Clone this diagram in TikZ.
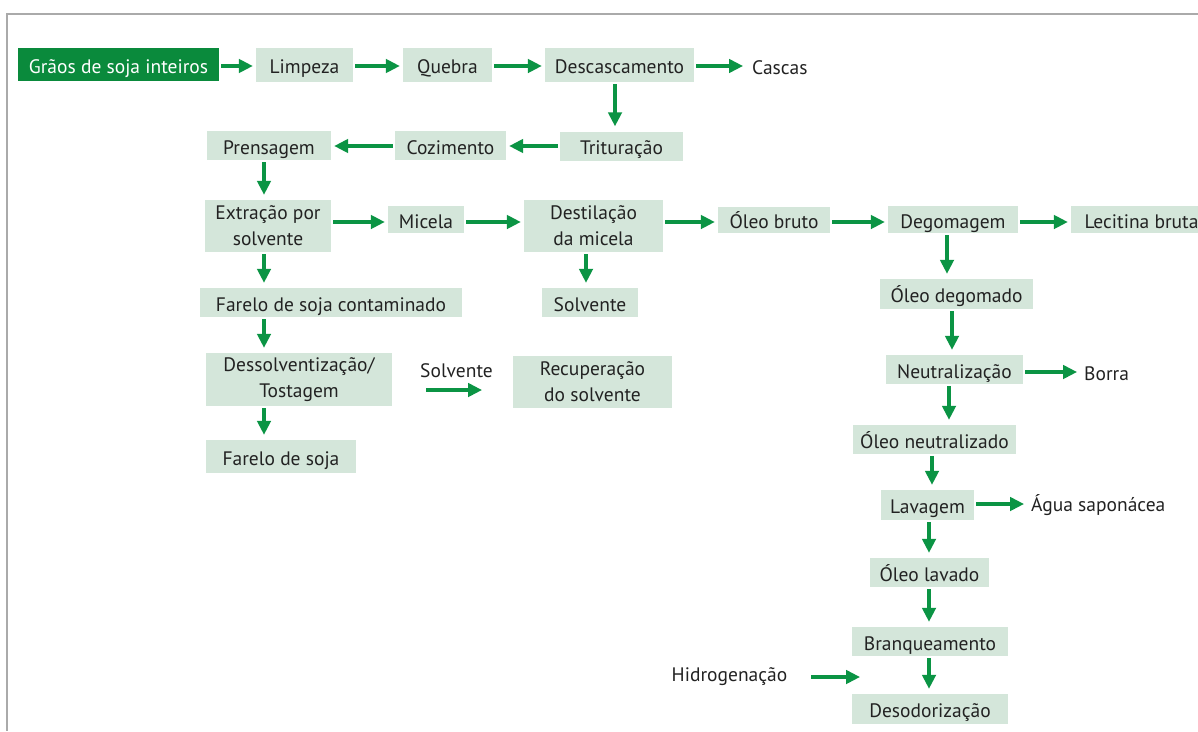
\documentclass[tikz,border=0pt]{standalone}
\usepackage{fontspec}
\setmainfont{PT Sans}
\usetikzlibrary{arrows.meta}
\definecolor{boxfill}{HTML}{D4E6DA}
\definecolor{darkgreen}{HTML}{0A8A3C}
\definecolor{arrgreen}{HTML}{0B9444}
\definecolor{txt}{HTML}{222222}
\definecolor{frame}{HTML}{AAAAAA}
\begin{document}
\begin{tikzpicture}[x=1pt,y=1pt,
  every node/.style={font=\fontsize{19.5}{26}\selectfont, text=txt},
  box/.style={fill=boxfill, inner sep=0pt, align=center, text height=17pt, text depth=0pt},
  box2/.style={fill=boxfill, inner sep=0pt, align=center},
  startbox/.style={fill=darkgreen, inner sep=0pt, text=white, text height=17pt, text depth=0pt},
  plain/.style={inner sep=0pt},
  arr/.style={draw=arrgreen, line width=3.2pt, -{Triangle[length=14pt,width=13.5pt]}, shorten <=2pt, shorten >=3pt},
  varr/.style={arr, shorten <=2pt, shorten >=5pt}]
\useasboundingbox (0,0) rectangle (1198,-731);
% frame
\draw[frame, line width=1.3pt] (1198,-14) -- (7,-14) -- (7,-731);
% row 1
\node[startbox, minimum width=201, minimum height=33] (gr) at (118.5,-64.5) {Grãos de soja inteiros};
\node[box, minimum width=97, minimum height=34] (limp) at (304.5,-65) {Limpeza};
\node[box, minimum width=89, minimum height=34] (queb) at (447.5,-65) {Quebra};
\node[box, minimum width=149, minimum height=34] (desc) at (619.5,-65) {Descascamento};
\node[plain, anchor=west] (casc) at (752,-68) {Cascas};
% row 2
\node[box, minimum width=123, minimum height=29] (trit) at (621.5,-146) {Trituração};
\node[box, minimum width=111, minimum height=29] (coz) at (450.5,-145.5) {Cozimento};
\node[box, minimum width=124, minimum height=29] (prens) at (269,-145.5) {Prensagem};
% row 3
\node[box2, minimum width=126, minimum height=52] (extr) at (268,-226) {Extração por\\solvente};
\node[box, minimum width=76, minimum height=27] (mic) at (426,-219.5) {Micela};
\node[box2, minimum width=139, minimum height=52] (dest) at (593.5,-226) {Destilação\\da micela};
\node[box, minimum width=112, minimum height=26] (obr) at (774,-220) {Óleo bruto};
\node[box, minimum width=130, minimum height=27] (deg) at (953,-219.5) {Degomagem};
\node[box, minimum width=141, minimum height=27] (lec) at (1141.5,-219.5) {Lecitina bruta};
% left column
\node[box, minimum width=96, minimum height=29] (solv) at (590,-302.5) {Solvente};
\node[box, minimum width=262, minimum height=29] (farc) at (331,-302.5) {Farelo de soja contaminado};
\node[box2, minimum width=186, minimum height=53] (dess) at (299,-379.5) {Dessolventização/\\Tostagem};
\node[box, minimum width=150, minimum height=33] (far) at (281,-456.5) {Farelo de soja};
\node[plain] (solvt) at (456.5,-371) {Solvente};
\node[box2, minimum width=159, minimum height=52] (rec) at (592.5,-382) {Recuperação\\do solvente};
% right column
\node[box, minimum width=153, minimum height=30] (odeg) at (956.5,-294) {Óleo degomado};
\node[box, minimum width=137, minimum height=29] (neu) at (954.5,-369.5) {Neutralização};
\node[plain, anchor=west] (borra) at (1084,-374) {Borra};
\node[box, minimum width=163, minimum height=29] (oneu) at (934.5,-439.5) {Óleo neutralizado};
\node[box, minimum width=93, minimum height=30] (lav) at (927.5,-505) {Lavagem};
\node[plain, anchor=west] (agua) at (1031,-505) {Água saponácea};
\node[box, minimum width=119, minimum height=29] (olav) at (929.5,-572.5) {Óleo lavado};
\node[box, minimum width=156, minimum height=29] (bra) at (930,-641.5) {Branqueamento};
\node[box, minimum width=156, minimum height=30] (des) at (930,-709) {Desodorização};
\node[plain] (hid) at (729.5,-677) {Hidrogenação};
% helper coordinates
\coordinate (r1) at (0,-66);
\coordinate (r2) at (0,-146);
\coordinate (r3) at (0,-222);
\coordinate (rb) at (0,-372);
\coordinate (ra) at (0,-504);
\coordinate (rh) at (0,-677);
\coordinate (c615) at (615,0);
\coordinate (c264) at (264,0);
\coordinate (c586) at (586,0);
\coordinate (c947) at (947,0);
\coordinate (c952) at (952,0);
\coordinate (c949) at (949,0);
\coordinate (c932) at (932,0);
\coordinate (c929) at (929,0);
\coordinate (sa) at (426,-390);
\coordinate (sb) at (482,-390);
\coordinate (hb) at (860,-677);
% arrows row 1
\draw[arr] (gr.east |- r1) -- (limp.west |- r1);
\draw[arr] (limp.east |- r1) -- (queb.west |- r1);
\draw[arr] (queb.east |- r1) -- (desc.west |- r1);
\draw[arr] (desc.east |- r1) -- ([xshift=-6pt]casc.west |- r1);
\draw[varr] (desc.south -| c615) -- (trit.north -| c615);
% row 2
\draw[arr] (trit.west |- r2) -- (coz.east |- r2);
\draw[arr] (coz.west |- r2) -- (prens.east |- r2);
\draw[varr] (prens.south -| c264) -- (extr.north -| c264);
% row 3
\draw[arr] (extr.east |- r3) -- (mic.west |- r3);
\draw[arr] (mic.east |- r3) -- (dest.west |- r3);
\draw[arr] (dest.east |- r3) -- (obr.west |- r3);
\draw[arr] (obr.east |- r3) -- (deg.west |- r3);
\draw[arr] (deg.east |- r3) -- (lec.west |- r3);
% left column
\draw[varr] (extr.south -| c264) -- (farc.north -| c264);
\draw[varr] (farc.south -| c264) -- (dess.north -| c264);
\draw[varr] (dess.south -| c264) -- (far.north -| c264);
\draw[varr] (dest.south -| c586) -- (solv.north -| c586);
\draw[arr, shorten <=0pt, shorten >=0pt] (sa) -- (sb);
% right column
\draw[varr] (deg.south -| c947) -- (odeg.north -| c947);
\draw[varr] (odeg.south -| c952) -- (neu.north -| c952);
\draw[arr] (neu.east |- rb) -- ([xshift=-4pt]borra.west |- rb);
\draw[varr] (neu.south -| c949) -- (oneu.north -| c949);
\draw[varr] (oneu.south -| c932) -- (lav.north -| c932);
\draw[arr] (lav.east |- ra) -- ([xshift=-4pt]agua.west |- ra);
\draw[varr] (lav.south -| c929) -- (olav.north -| c929);
\draw[varr] (olav.south -| c929) -- (bra.north -| c929);
\draw[varr] (bra.south -| c929) -- (des.north -| c929);
\draw[arr, shorten <=24pt, shorten >=0pt] (hid.east |- rh) -- (hb);
\end{tikzpicture}
\end{document}
